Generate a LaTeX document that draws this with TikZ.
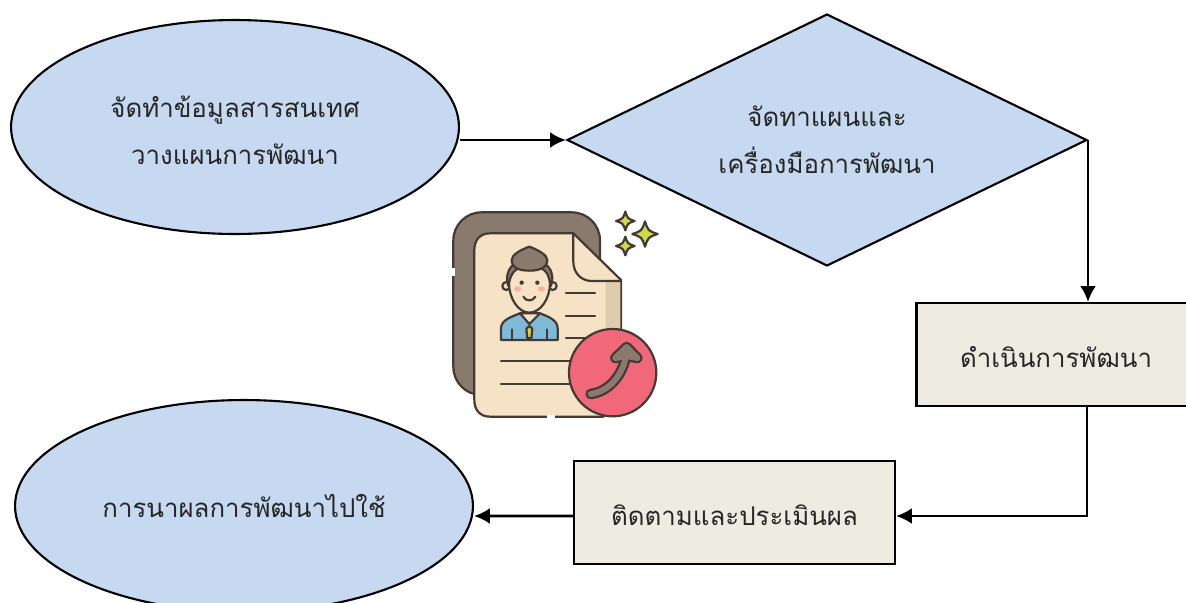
\documentclass[tikz,border=0pt]{standalone}
\usepackage{fontspec}
\usepackage{tikz}
\usetikzlibrary{shapes.geometric}
\usetikzlibrary{arrows.meta}
\newfontfamily\thaifont[Script=Thai]{Loma}
\definecolor{boxblue}{HTML}{C6D9F1}
\definecolor{boxtan}{HTML}{EEECE1}
\definecolor{icondark}{HTML}{443A33}
\definecolor{iconbrown}{HTML}{8A7A6E}
\definecolor{iconpage}{HTML}{F6E3C6}
\definecolor{iconfold}{HTML}{DFCCAC}
\definecolor{iconred}{HTML}{F0687A}
\definecolor{iconblue}{HTML}{7FBBD8}
\definecolor{iconstar}{HTML}{CDD94A}
\definecolor{iconpink}{HTML}{F8AFA6}
\tikzset{
  flowtext/.style={font=\thaifont\fontsize{14.7}{26.6}\selectfont,align=center,text=black!85,inner sep=0pt},
  oval/.style={ellipse,draw=black,line width=1.2pt,fill=boxblue,flowtext},
  rhomb/.style={diamond,aspect=2.063,draw=black,line width=1.2pt,fill=boxblue,flowtext},
  stepbox/.style={rectangle,draw=black,line width=1.2pt,fill=boxtan,flowtext},
  link/.style={draw=black,line width=1.5pt,-{Latex[length=9pt,width=9pt]}},
  iconline/.style={draw=icondark,line width=1.25pt,line join=round,line cap=round}
}
\begin{document}
\begin{tikzpicture}[x=0.02cm,y=-0.02cm]
\useasboundingbox (0,0) rectangle (1186,602);
\clip (0,0) rectangle (1186,602);
\node[oval,minimum width=8.96cm,minimum height=4.28cm] (collect) at (235,127) {\rule{0pt}{15.6pt}จัดทำข้อมูลสารสนเทศ\\วางแผนการพัฒนา};
\node[rhomb,minimum width=10.4cm,minimum height=5.04cm] (prepare) at (827,140) {จัดทาแผนและ\\เครื่องมือการพัฒนา};
\node[stepbox,minimum width=5.58cm,minimum height=2.06cm] (develop) at (1056,354.5) {\rule{0pt}{14.8pt}ดำเนินการพัฒนา};
\node[stepbox,minimum width=6.42cm,minimum height=2.06cm] (follow) at (734.5,512.5) {\rule{0pt}{14.8pt}ติดตามและประเมินผล};
\node[oval,minimum width=9.16cm,minimum height=4.24cm] (apply) at (244,506) {การนาผลการพัฒนาไปใช้};
\draw[link] (prepare.west -| collect.east) -- (prepare.west);
\draw[link] (prepare.east) -- (prepare.east |- develop.north);
\draw[link] ([xshift=-0.02cm]prepare.east |- develop.south) |- ([yshift=-0.07cm]follow.east);
\draw[link] ([yshift=-0.07cm]follow.west) -- ([yshift=-0.2cm]apply.east);
% icon
\begin{scope}[shift={(440,200)},x=0.00667cm,y=-0.00667cm]
\draw[iconline,fill=iconbrown,rounded corners=16pt] (40,37) rectangle (480,585);
\draw[white,line width=1.8pt] (40,205) -- (40,228);
\draw[iconline,fill=iconpage] (150,100) -- (400,100) -- (543,240) -- (543,560) -- (490,650) -- (150,650) .. controls (120,650) and (103,630) .. (103,600) -- (103,150) .. controls (103,120) and (120,100) .. (150,100) -- cycle;
\draw[white,line width=1.8pt] (320,650) -- (344,650);
\fill[iconfold] (497,246) -- (541,246) -- (541,400) -- (497,420) -- cycle;
\draw[iconline] (400,100) -- (400,185) .. controls (400,220) and (425,243) .. (455,243) -- (543,243);
\foreach \ly/\lx in {280/465,348/465,415/440}
  \draw[iconline] (378,\ly) -- (\lx,\ly);
\foreach \ly in {483,551}
  \draw[iconline] (183,\ly) -- (390,\ly);
% person
\draw[iconline,fill=iconblue] (183,420) -- (183,385) .. controls (183,360) and (215,350) .. (240,340) -- (300,340) .. controls (325,350) and (353,360) .. (353,385) -- (353,420) -- cycle;
\draw[iconline] (215,388) -- (215,420) (322,388) -- (322,420);
\draw[iconline,fill=iconstar] (268,378) -- (277,386) -- (274,415) -- (262,415) -- (259,386) -- cycle;
\draw[iconline,fill=iconpage] (240,340) -- (268,372) -- (300,340) -- cycle;
\draw[iconline,fill=iconpage] (199,258) circle (12);
\draw[iconline,fill=iconpage] (338,258) circle (12);
\draw[iconline,fill=iconbrown] (205,258) .. controls (190,205) and (225,180) .. (268,180) .. controls (315,180) and (348,205) .. (333,258) -- cycle;
\draw[iconline,fill=iconpage] (207,250) .. controls (212,222) and (225,205) .. (240,205) -- (298,205) .. controls (315,205) and (326,222) .. (330,250) .. controls (330,295) and (302,338) .. (268,338) .. controls (235,338) and (207,295) .. (207,250) -- cycle;
\draw[iconline,fill=iconbrown] (215,180) .. controls (215,165) and (240,150) .. (268,140) .. controls (295,150) and (322,165) .. (322,180) .. controls (322,205) and (295,212) .. (268,212) .. controls (240,212) and (215,205) .. (215,180) -- cycle;
\fill[icondark] (245,248) circle (6.5) (292,248) circle (6.5);
\fill[iconpink] (233,267) ellipse (11 and 8) (304,267) ellipse (11 and 8);
\draw[iconline] (250,290) .. controls (258,305) and (278,305) .. (286,290);
% badge
\draw[iconline,fill=iconred] (518,518) circle (131);
\draw[draw=icondark,line width=6pt,line cap=round] (452,582) .. controls (505,575) and (545,530) .. (558,470);
\draw[draw=icondark,line width=6pt,line join=round,fill=icondark] (526,474) -- (560,441) -- (592,474) -- (560,468) -- cycle;
\draw[draw=iconbrown,line width=3.4pt,line cap=round] (452,582) .. controls (505,575) and (545,530) .. (558,470);
\draw[draw=iconbrown,line width=3.4pt,line join=round,fill=iconbrown] (526,474) -- (560,441) -- (592,474) -- (560,468) -- cycle;
% sparkles
\foreach \sx/\sy/\sr in {556/63/28,615/102/38,556/138/28}
  \draw[iconline,fill=iconstar] (\sx,\sy-\sr) .. controls (\sx+0.25*\sr,\sy-0.25*\sr) .. (\sx+\sr,\sy) .. controls (\sx+0.25*\sr,\sy+0.25*\sr) .. (\sx,\sy+\sr) .. controls (\sx-0.25*\sr,\sy+0.25*\sr) .. (\sx-\sr,\sy) .. controls (\sx-0.25*\sr,\sy-0.25*\sr) .. (\sx,\sy-\sr) -- cycle;
\end{scope}
\end{tikzpicture}
\end{document}
